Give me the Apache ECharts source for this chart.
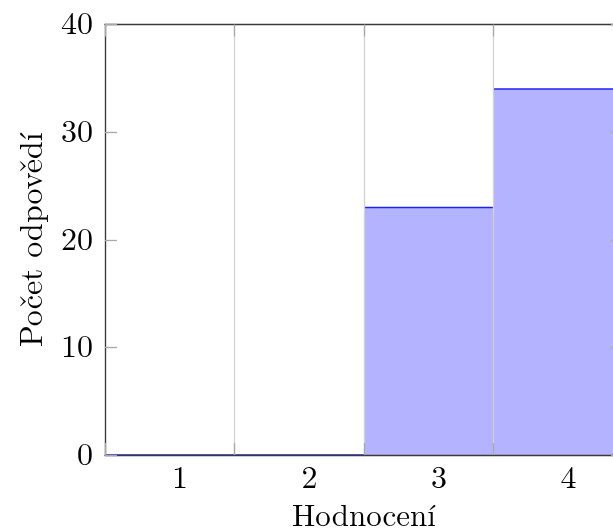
<!DOCTYPE html>
<html>
<head>
<meta charset="utf-8">
<script src="https://cdn.jsdelivr.net/npm/echarts@6/dist/echarts.min.js"></script>
<style>html,body{margin:0;padding:0;background:#fff}#c{width:613px;height:531px}</style>
</head>
<body>
<div id="c"></div>
<script>
// ---- data ----
const categories = ['1', '2', '3', '4'];          // x tick labels (ratings)
const binEdges = [0.42, 1.42, 2.42, 3.42, 4.42];  // interval boundaries
const counts = [0, 0, 23, 34];                      // responses per rating
const yTicks = [0, 10, 20, 30, 40];
const xName = 'Hodnocení';
const yName = 'Počet odpovědí';

const FONT = "'Latin Modern Roman','CMU Serif','Liberation Serif',serif";
const bins = counts.map((c, i) => [binEdges[i], binEdges[i + 1], c]);
const binWidth = binEdges[1] - binEdges[0];

const chart = echarts.init(document.getElementById('c'), null, {renderer: 'canvas'});
const axisLineStyle = {color: '#3a3a3a', width: 1.3};
const axisLine = {show: true, onZero: false, lineStyle: axisLineStyle};
const tick = {show: true, inside: true, length: 12, lineStyle: {color: '#a8a8a8', width: 1.3}};

chart.setOption({
  animation: false,
  backgroundColor: '#fff',
  grid: {left: 105, top: 24.5, width: 518, height: 430.5, containLabel: false, outerBoundsMode: 'none'},
  xAxis: [{
    type: 'value', position: 'bottom',
    min: binEdges[0], max: binEdges[binEdges.length - 1], interval: binWidth,
    z: 5,
    name: xName, nameLocation: 'middle', nameGap: 46,
    nameTextStyle: {fontFamily: FONT, fontSize: 31, color: '#000'},
    axisLine: axisLine,
    axisTick: tick,
    axisLabel: {show: true, margin: 7, fontFamily: FONT, fontSize: 32, color: '#000',
      customValues: categories.map(Number), formatter: v => String(v)},
    splitLine: {show: true, lineStyle: {color: '#d2d2d2', width: 1.3}}
  }, {
    type: 'value', position: 'top',
    min: binEdges[0], max: binEdges[binEdges.length - 1], interval: binWidth,
    z: 5,
    axisLine: axisLine,
    axisTick: tick,
    axisLabel: {show: false},
    splitLine: {show: false}
  }],
  yAxis: [{
    type: 'value', position: 'left',
    min: yTicks[0], max: yTicks[yTicks.length - 1], interval: 10,
    z: 5,
    name: yName, nameLocation: 'middle', nameGap: 57, nameRotate: 90,
    nameTextStyle: {fontFamily: FONT, fontSize: 32, color: '#000'},
    axisLine: axisLine,
    axisTick: tick,
    axisLabel: {show: true, margin: 12, fontFamily: FONT, fontSize: 32, color: '#000'},
    splitLine: {show: false}
  }, {
    type: 'value', position: 'right',
    min: yTicks[0], max: yTicks[yTicks.length - 1], interval: 10,
    z: 5,
    axisLine: axisLine,
    axisTick: tick,
    axisLabel: {show: false},
    splitLine: {show: false}
  }],
  series: [{
    type: 'custom',
    xAxisIndex: 0, yAxisIndex: 0,
    z: 2,
    clip: false,
    data: bins,
    renderItem: function (params, api) {
      const x0 = api.value(0), x1 = api.value(1), y = api.value(2);
      const pTop = api.coord([x0, y]);
      const pBot = api.coord([x1, 0]);
      const children = [];
      if (y > 0) {
        children.push({type: 'rect',
          shape: {x: pTop[0], y: pTop[1], width: pBot[0] - pTop[0], height: pBot[1] - pTop[1]},
          style: {fill: '#b3b3ff'}});
      }
      children.push({type: 'line',
        shape: {x1: pTop[0], y1: pTop[1], x2: pBot[0], y2: pTop[1]},
        style: {stroke: '#2020ff', lineWidth: 1.5}});
      return {type: 'group', children: children};
    }
  }]
});
</script>
</body>
</html>
